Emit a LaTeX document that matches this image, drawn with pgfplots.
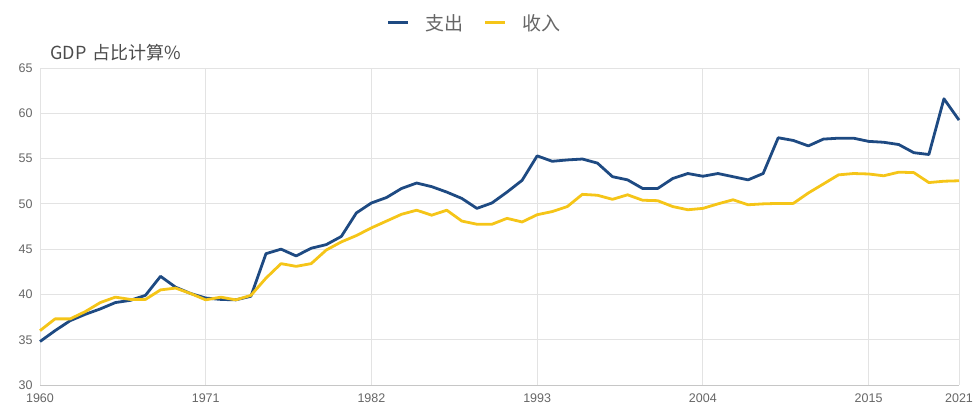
\documentclass[border=0pt]{standalone}
\usepackage{pgfplots}
\pgfplotsset{compat=1.18}
\usepackage{fontspec}
\setmainfont{Liberation Sans}
\newfontfamily\cjk{Noto Sans CJK SC}
\definecolor{blueS}{HTML}{1E4A82}
\definecolor{yelR}{HTML}{F5C518}
\definecolor{txt}{HTML}{666666}
\definecolor{gridc}{HTML}{E3E3E3}
\begin{document}
\begin{tikzpicture}[x=1pt,y=1pt]
\useasboundingbox (0,0) rectangle (976,405);
\begin{axis}[
  at={(40pt,20pt)}, anchor=south west,
  scale only axis, width=919pt, height=317pt,
  xmin=1960, xmax=2021, ymin=30, ymax=65,
  xtick={1960,1971,1982,1993,2004,2015,2021},
  ytick={30,35,...,65},
  /pgf/number format/1000 sep={},
  /pgf/number format/assume math mode=true,
  grid=major,
  major grid style={gridc, line width=0.9pt},
  separate axis lines,
  x axis line style={draw=gray!45, line width=1pt},
  y axis line style={draw=none},
  axis x line*=bottom, axis y line*=left,
  major tick length=0pt,
  tick style={draw=none},
  ticklabel style={font=\fontsize{12.5}{14}\selectfont, text=txt},
  xticklabel style={yshift=-5pt},
  yticklabel style={xshift=-4pt},
  clip=false,
  legend columns=2,
  legend style={draw=none, fill=none, at={(rel axis cs:0.473,1.142)}, anchor=center,
    font=\cjk\fontsize{19}{21}\selectfont, text=txt,
    /tikz/every even column/.append style={column sep=18pt}},
  legend image code/.code={\draw[#1, line width=3pt] (0pt,0pt) -- (20pt,0pt); \path (34pt,0pt);},
]
\addplot[blueS, line width=2.8pt, line join=round] coordinates {
(1960,34.8)(1961,36.0)(1962,37.1)(1963,37.8)(1964,38.4)(1965,39.1)(1966,39.35)(1967,39.9)(1968,42.0)(1969,40.8)
(1970,40.1)(1971,39.6)(1972,39.45)(1973,39.4)(1974,39.8)(1975,44.5)(1976,45.0)(1977,44.25)(1978,45.1)(1979,45.5)
(1980,46.4)(1981,49.0)(1982,50.1)(1983,50.7)(1984,51.7)(1985,52.3)(1986,51.9)(1987,51.3)(1988,50.6)(1989,49.5)
(1990,50.1)(1991,51.3)(1992,52.6)(1993,55.3)(1994,54.7)(1995,54.85)(1996,54.95)(1997,54.5)(1998,53.0)(1999,52.65)
(2000,51.7)(2001,51.7)(2002,52.8)(2003,53.35)(2004,53.05)(2005,53.35)(2006,53.0)(2007,52.65)(2008,53.35)(2009,57.3)
(2010,57.0)(2011,56.4)(2012,57.15)(2013,57.25)(2014,57.25)(2015,56.9)(2016,56.8)(2017,56.55)(2018,55.65)(2019,55.45)
(2020,61.6)(2021,59.25)};
\addlegendentry{支出}
\addplot[yelR, line width=2.8pt, line join=round] coordinates {
(1960,36.0)(1961,37.3)(1962,37.3)(1963,38.1)(1964,39.1)(1965,39.7)(1966,39.45)(1967,39.45)(1968,40.5)(1969,40.7)
(1970,40.1)(1971,39.4)(1972,39.7)(1973,39.4)(1974,39.9)(1975,41.8)(1976,43.4)(1977,43.1)(1978,43.4)(1979,44.9)
(1980,45.8)(1981,46.5)(1982,47.35)(1983,48.1)(1984,48.85)(1985,49.3)(1986,48.75)(1987,49.3)(1988,48.1)(1989,47.75)
(1990,47.75)(1991,48.4)(1992,48.0)(1993,48.8)(1994,49.15)(1995,49.7)(1996,51.05)(1997,50.95)(1998,50.5)(1999,51.0)
(2000,50.4)(2001,50.35)(2002,49.7)(2003,49.35)(2004,49.5)(2005,50.0)(2006,50.45)(2007,49.9)(2008,50.0)(2009,50.05)
(2010,50.05)(2011,51.2)(2012,52.2)(2013,53.2)(2014,53.35)(2015,53.3)(2016,53.1)(2017,53.5)(2018,53.45)(2019,52.35)
(2020,52.5)(2021,52.55)};
\addlegendentry{收入}
\node[anchor=west, text=black!70, font=\cjk\fontsize{18}{20}\selectfont, inner sep=0pt]
  at (rel axis cs:0.011,1.047) {GDP\hspace{6pt}占比计算\%};
\end{axis}
\end{tikzpicture}
\end{document}
